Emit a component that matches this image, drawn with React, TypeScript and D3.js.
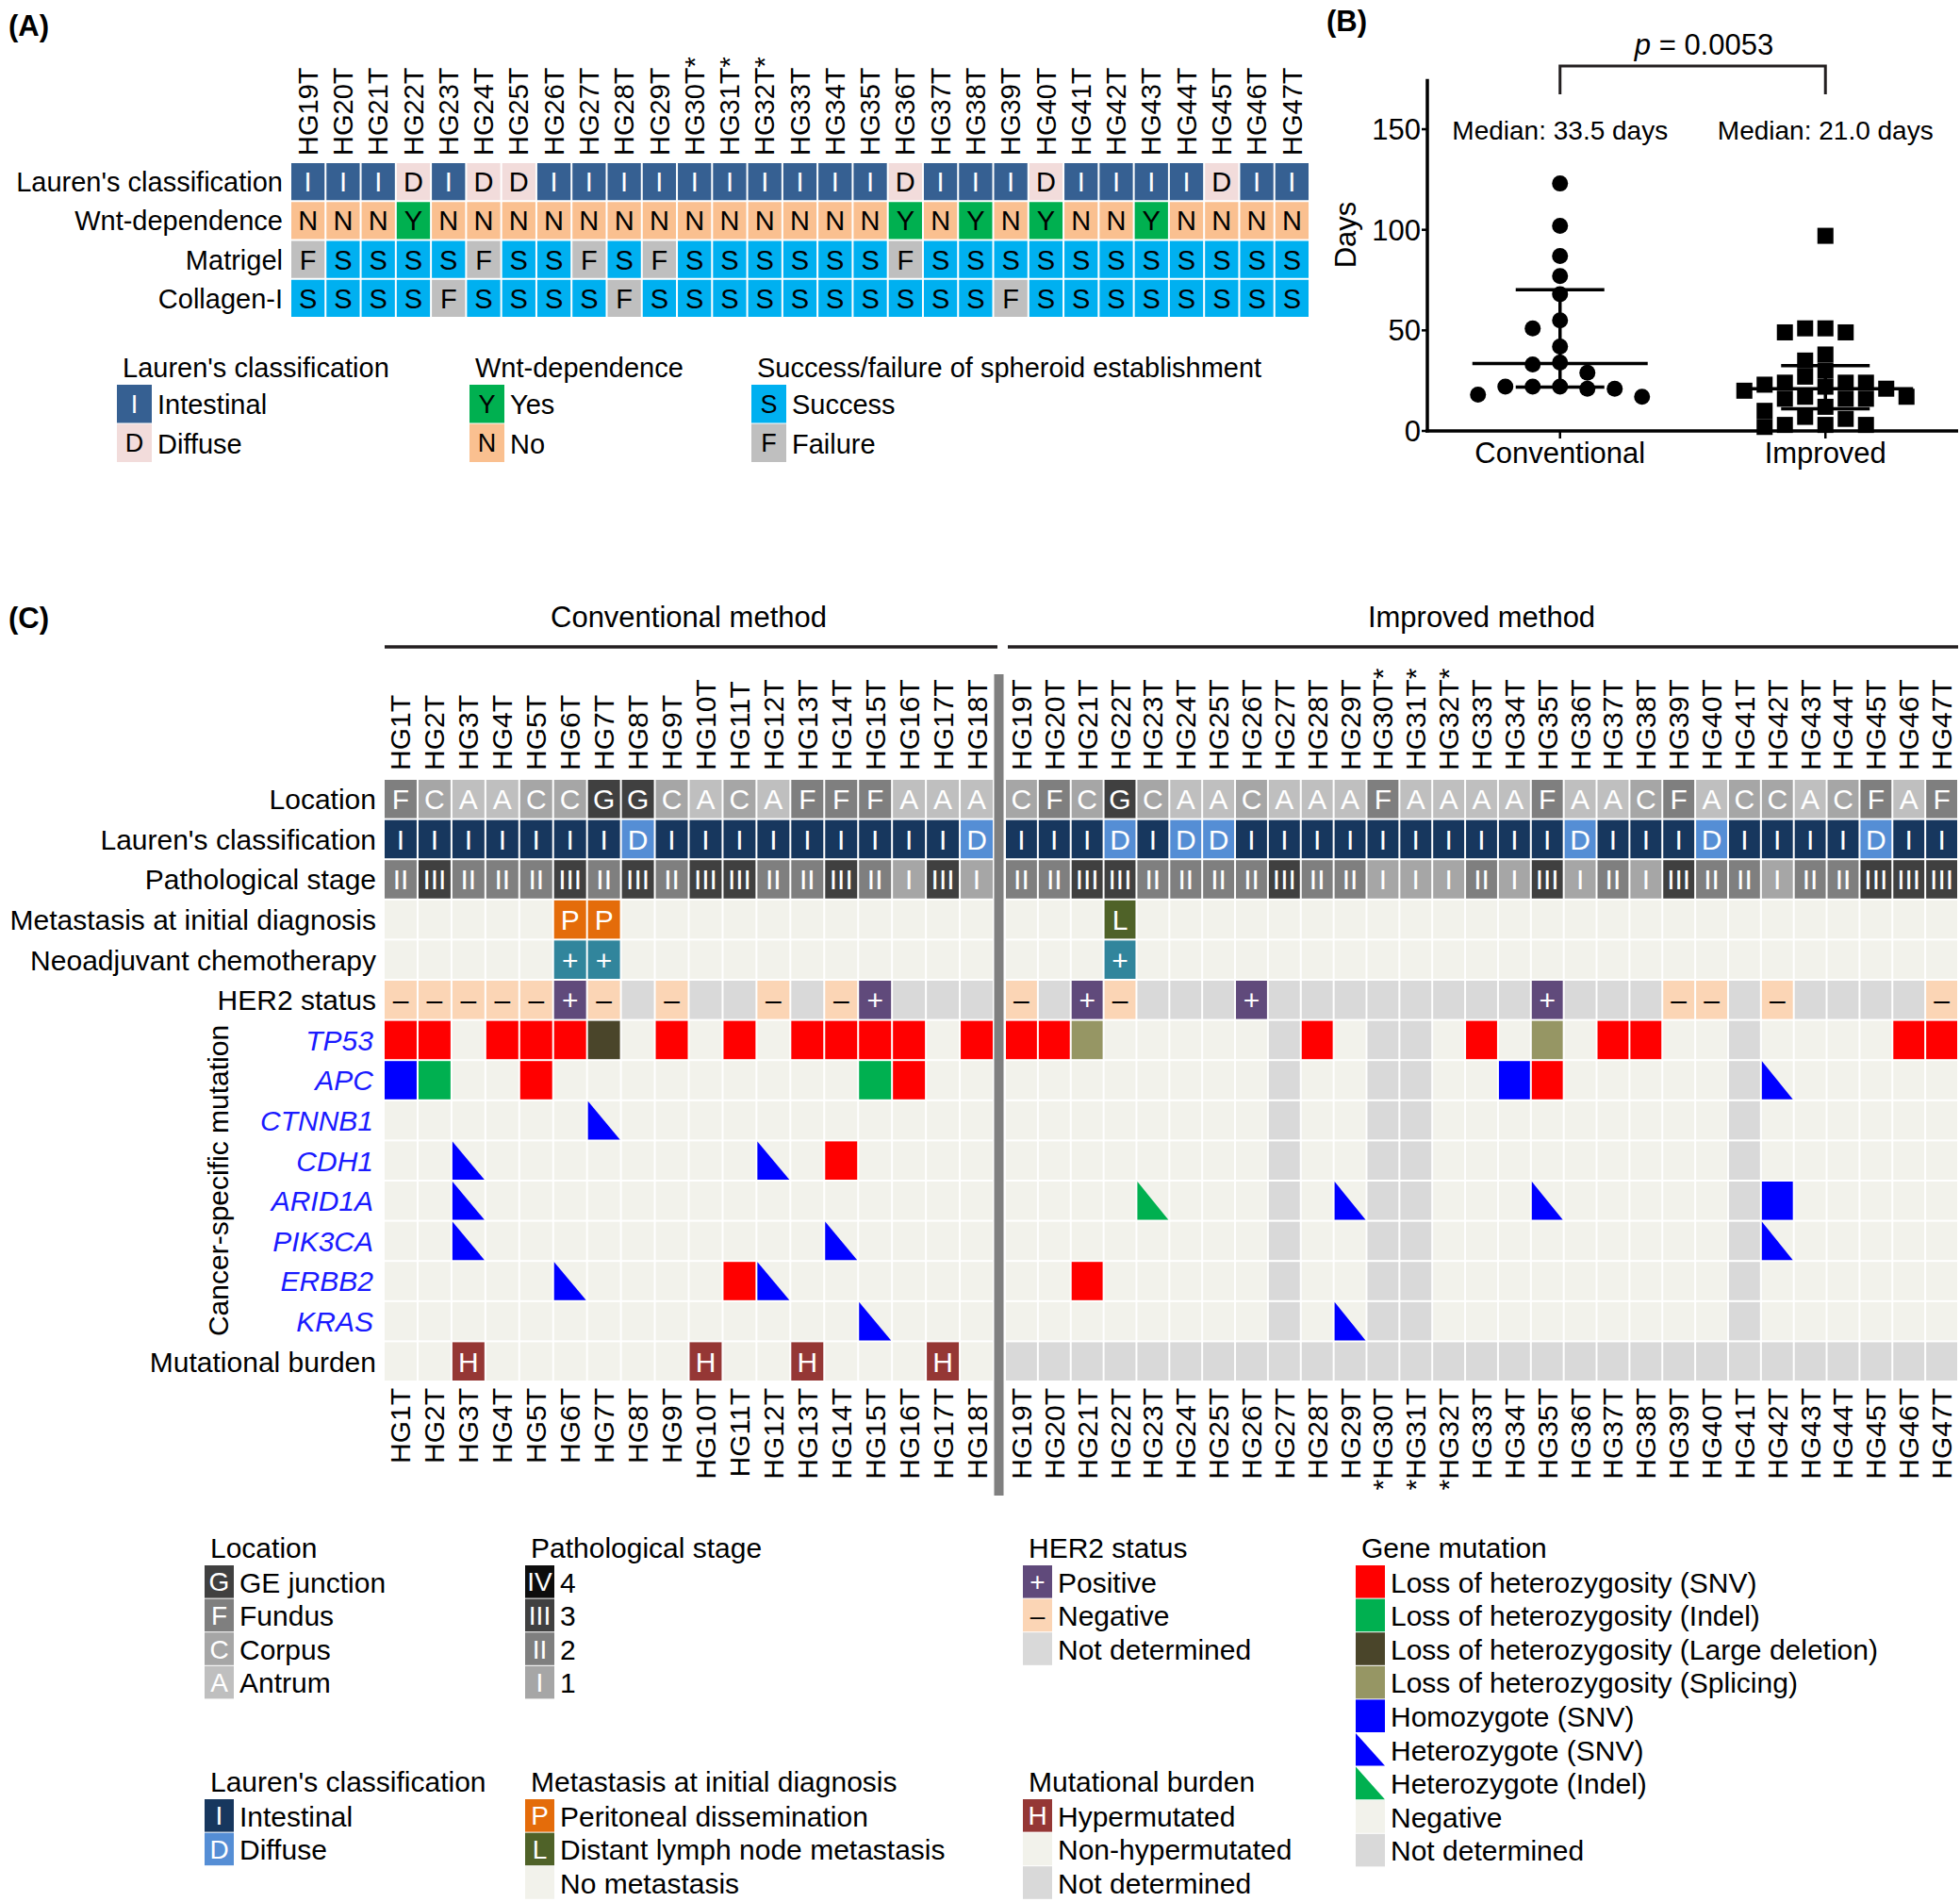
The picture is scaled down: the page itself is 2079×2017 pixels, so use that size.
import React from "react";
import * as d3 from "d3";

const FONT = '"Liberation Sans", Arial, Helvetica, sans-serif';
const W = 2079;
const H = 2017;

// ================= Panel A data =================
const aSamples = [
  "HG19T", "HG20T", "HG21T", "HG22T", "HG23T", "HG24T", "HG25T", "HG26T", "HG27T", "HG28T",
  "HG29T", "HG30T", "HG31T", "HG32T", "HG33T", "HG34T", "HG35T", "HG36T", "HG37T", "HG38T",
  "HG39T", "HG40T", "HG41T", "HG42T", "HG43T", "HG44T", "HG45T", "HG46T", "HG47T",
];
const aLauren = "I I I D I D D I I I I I I I I I I D I I I D I I I I D I I".split(" ");
const aWnt = "N N N Y N N N N N N N N N N N N N Y N Y N Y N N Y N N N N".split(" ");
const aMatrigel = "F S S S S F S S F S F S S S S S S F S S S S S S S S S S S".split(" ");
const aCollagen = "S S S S F S S S S F S S S S S S S S S S F S S S S S S S S".split(" ");
const starred = ["HG30T", "HG31T", "HG32T"];

// ================= Panel B data =================
const groups = ["Conventional", "Improved"];
const conventionalDays = [123, 102, 87, 77, 68, 55, 51, 42, 34, 33, 29, 22, 22, 22, 21, 21, 18, 17];
const improvedDays = [97, 51, 49, 49, 51, 35, 38, 30, 27, 22, 24, 23, 20, 24, 24, 21, 16, 17, 16, 16, 17, 10, 7, 12, 6, 3, 3, 2, 3];
const pValueText = "0.0053";

// ================= Panel C data =================
const convSamples = [
  "HG1T", "HG2T", "HG3T", "HG4T", "HG5T", "HG6T", "HG7T", "HG8T", "HG9T",
  "HG10T", "HG11T", "HG12T", "HG13T", "HG14T", "HG15T", "HG16T", "HG17T", "HG18T",
];
const impSamples = aSamples;
const cLocation = "F C A A C C G G C A C A F F F A A A C F C G C A A C A A A F A A A A F A A C F A C C A C F A F".split(" ");
const cLauren = "I I I I I I I D I I I I I I I I I D I I I D I D D I I I I I I I I I I D I I I D I I I I D I I".split(" ");
const cStage = "II III II II II III II III II III III II II III II I III I II II III III II II II II III II II I I I II I III I II I III II II I II II III III III".split(" ");
const cMetastasis = ". . . . . P P . . . . . . . . . . . . . . L . . . . . . . . . . . . . . . . . . . . . . . . .".split(" ");
const cNeoadjuvant = ". . . . . + + . . . . . . . . . . . . . . + . . . . . . . . . . . . . . . . . . . . . . . . .".split(" ");
const cHER2 = "- - - - - + - ND - ND ND - ND - + ND ND ND - ND + - ND ND ND + ND ND ND ND ND ND ND ND + ND ND ND - - ND - ND ND ND ND -".split(" ");
const cTP53 = "R R . R R R LD . R . R . R R R R . R R R SP . . . . . ND R . ND ND . R . SP . R R . . ND . . . . R R".split(" ");
const cAPC = "B G . . R . . . . . . . . . G R . . . . . . . . . . ND . . ND ND . . B R . . . . . ND T . . . . .".split(" ");
const cCTNNB1 = ". . . . . . T . . . . . . . . . . . . . . . . . . . ND . . ND ND . . . . . . . . . ND . . . . . .".split(" ");
const cCDH1 = ". . T . . . . . . . . T . R . . . . . . . . . . . . ND . . ND ND . . . . . . . . . ND . . . . . .".split(" ");
const cARID1A = ". . T . . . . . . . . . . . . . . . . . . . TG . . . ND . T ND ND . . . T . . . . . ND B . . . . .".split(" ");
const cPIK3CA = ". . T . . . . . . . . . . T . . . . . . . . . . . . ND . . ND ND . . . . . . . . . ND T . . . . .".split(" ");
const cERBB2 = ". . . . . T . . . . R T . . . . . . . . R . . . . . ND . . ND ND . . . . . . . . . ND . . . . . .".split(" ");
const cKRAS = ". . . . . . . . . . . . . . T . . . . . . . . . . . ND . T ND ND . . . . . . . . . ND . . . . . .".split(" ");
const cBurden = ". . H . . . . . . H . . H . . . H . ND ND ND ND ND ND ND ND ND ND ND ND ND ND ND ND ND ND ND ND ND ND ND ND ND ND ND ND ND".split(" ");

// ================= Styles =================
const NEG = "#F2F2EB";
const NDC = "#D9D9D9";
type Sty = { fill: string; text?: string; tc?: string; tri?: string };

const aLaurenPal: Record<string, Sty> = {
  I: { fill: "#366092", text: "I", tc: "#fff" },
  D: { fill: "#F2DCDB", text: "D", tc: "#000" },
};
const aWntPal: Record<string, Sty> = {
  Y: { fill: "#00B050", text: "Y", tc: "#000" },
  N: { fill: "#FAC090", text: "N", tc: "#000" },
};
const aSuccPal: Record<string, Sty> = {
  S: { fill: "#00B0F0", text: "S", tc: "#000" },
  F: { fill: "#BFBFBF", text: "F", tc: "#000" },
};

const locPal: Record<string, Sty> = {
  G: { fill: "#404040", text: "G", tc: "#fff" },
  F: { fill: "#7F7F7F", text: "F", tc: "#fff" },
  C: { fill: "#A6A6A6", text: "C", tc: "#fff" },
  A: { fill: "#BFBFBF", text: "A", tc: "#fff" },
};
const laurenPal: Record<string, Sty> = {
  I: { fill: "#17375E", text: "I", tc: "#fff" },
  D: { fill: "#558ED5", text: "D", tc: "#fff" },
};
const stagePal: Record<string, Sty> = {
  IV: { fill: "#0D0D0D", text: "IV", tc: "#fff" },
  III: { fill: "#404040", text: "III", tc: "#fff" },
  II: { fill: "#7F7F7F", text: "II", tc: "#fff" },
  I: { fill: "#A6A6A6", text: "I", tc: "#fff" },
};
const metPal: Record<string, Sty> = {
  P: { fill: "#E46C0A", text: "P", tc: "#fff" },
  L: { fill: "#4F6228", text: "L", tc: "#fff" },
  ".": { fill: NEG },
};
const neoPal: Record<string, Sty> = {
  "+": { fill: "#31859C", text: "+", tc: "#fff" },
  ".": { fill: NEG },
};
const her2Pal: Record<string, Sty> = {
  "+": { fill: "#604A7B", text: "+", tc: "#fff" },
  "-": { fill: "#FBD5B5", text: "\u2013", tc: "#000" },
  ND: { fill: NDC },
};
const genePal: Record<string, Sty> = {
  R: { fill: "#FF0000" },
  G: { fill: "#00B050" },
  LD: { fill: "#4A452A" },
  SP: { fill: "#969664" },
  B: { fill: "#0000FF" },
  T: { fill: NEG, tri: "#0000FF" },
  TG: { fill: NEG, tri: "#00B050" },
  ".": { fill: NEG },
  ND: { fill: NDC },
};
const burdenPal: Record<string, Sty> = {
  H: { fill: "#953735", text: "H", tc: "#fff" },
  ".": { fill: NEG },
  ND: { fill: NDC },
};

// ================= Helpers =================
function Cell({ x, y, w, h, s, fs }: { x: number; y: number; w: number; h: number; s: Sty; fs: number }) {
  return (
    <g>
      <rect x={x + 1} y={y + 1} width={w - 2} height={h - 2} fill={s.fill} />
      {s.tri && (
        <path d={`M${x + 1},${y + 1}L${x + 1},${y + h - 1}L${x + w - 1},${y + h - 1}Z`} fill={s.tri} />
      )}
      {s.text && (
        <text x={x + w / 2} y={y + h / 2 + fs * 0.36} textAnchor="middle" fontSize={fs} fill={s.tc}>
          {s.text}
        </text>
      )}
    </g>
  );
}

type LegItem = { s: Sty; label: string };
function Legend({ x, y, title, items, pitch, sw, fs }: { x: number; y: number; title: string; items: LegItem[]; pitch: number; sw: number; fs: number }) {
  return (
    <g>
      <text x={x + 6} y={y} fontSize={fs} fill="#000">{title}</text>
      {items.map((it, i) => {
        const top = y + 8 + i * pitch;
        return (
          <g key={i}>
            <Cell x={x - 1} y={top - 1} w={sw + 2} h={pitch + 1} s={it.s} fs={fs - 2} />
            <text x={x + sw + 6} y={top + pitch / 2 + fs * 0.36} fontSize={fs} fill="#000">{it.label}</text>
          </g>
        );
      })}
    </g>
  );
}

function quartile(vals: number[], p: number) {
  const s = [...vals].sort((a, b) => a - b);
  const n = s.length;
  const pos = (n + 1) * p;
  const lo = Math.floor(pos);
  const frac = pos - lo;
  if (lo < 1) return s[0];
  if (lo >= n) return s[n - 1];
  return s[lo - 1] + frac * (s[lo] - s[lo - 1]);
}

// greedy slot-based swarm: each point takes the slot nearest the centre
// that has no vertically-overlapping point already placed in it
function swarm(vals: number[], yScale: (v: number) => number, size: number) {
  const order = vals.map((v, i) => ({ v, i, py: yScale(v) })).sort((a, b) => a.py - b.py);
  const placed: { slot: number; py: number }[] = [];
  const out: { v: number; slot: number }[] = new Array(vals.length);
  const cands = [0];
  for (let k = 1; k < 12; k++) cands.push(-k, k);
  for (const p of order) {
    let slot = 0;
    for (const c of cands) {
      if (!placed.some((q) => q.slot === c && Math.abs(q.py - p.py) < size)) {
        slot = c;
        break;
      }
    }
    placed.push({ slot, py: p.py });
    out[p.i] = { v: p.v, slot };
  }
  return out;
}

// ================= Panel A =================
function PanelA() {
  const x = d3.scaleBand<string>().domain(aSamples).range([308, 1389]);
  const rows = [
    { label: "Lauren's classification", values: aLauren, pal: aLaurenPal },
    { label: "Wnt-dependence", values: aWnt, pal: aWntPal },
    { label: "Matrigel", values: aMatrigel, pal: aSuccPal },
    { label: "Collagen-I", values: aCollagen, pal: aSuccPal },
  ];
  const y = d3.scaleBand<string>().domain(rows.map((r) => r.label)).range([172, 337]);
  const fs = 29;
  return (
    <g>
      <text x={9} y={38} fontSize={31} fontWeight="bold">(A)</text>
      {aSamples.map((s) => (
        <text key={s} transform={`translate(${x(s)! + x.bandwidth() / 2},165) rotate(-90)`} dy="0.35em" fontSize={fs}>
          {s + (starred.includes(s) ? "*" : "")}
        </text>
      ))}
      {rows.map((r) => (
        <g key={r.label}>
          <text x={300} y={y(r.label)! + y.bandwidth() / 2 + fs * 0.36} textAnchor="end" fontSize={fs}>{r.label}</text>
          {r.values.map((v, i) => (
            <Cell key={i} x={x(aSamples[i])!} y={y(r.label)!} w={x.bandwidth()} h={y.bandwidth()} s={r.pal[v]} fs={fs} />
          ))}
        </g>
      ))}
      <Legend x={124} y={400} title="Lauren's classification" pitch={41.5} sw={37} fs={fs}
        items={[{ s: aLaurenPal.I, label: "Intestinal" }, { s: aLaurenPal.D, label: "Diffuse" }]} />
      <Legend x={498} y={400} title="Wnt-dependence" pitch={41.5} sw={37} fs={fs}
        items={[{ s: aWntPal.Y, label: "Yes" }, { s: aWntPal.N, label: "No" }]} />
      <Legend x={797} y={400} title="Success/failure of spheroid establishment" pitch={41.5} sw={37} fs={fs}
        items={[{ s: aSuccPal.S, label: "Success" }, { s: aSuccPal.F, label: "Failure" }]} />
    </g>
  );
}

// ================= Panel B =================
function PanelB() {
  const y = d3.scaleLinear().domain([0, 175]).range([457, 83.7]);
  const x = d3.scalePoint<string>().domain(groups).range([1514, 2077]).padding(0.5);
  const ticks = [0, 50, 100, 150];
  const sets = [
    { g: "Conventional", vals: conventionalDays, step: 29, shape: "circle" },
    { g: "Improved", vals: improvedDays, step: 21.5, shape: "square" },
  ];
  const x1 = x("Conventional")!;
  const x2 = x("Improved")!;
  return (
    <g>
      <text x={1407} y={33} fontSize={31} fontWeight="bold">(B)</text>
      <line x1={1514} x2={1514} y1={y(175)} y2={y(0) + 1.5} stroke="#000" strokeWidth={3.5} />
      <line x1={1512} x2={2077} y1={y(0)} y2={y(0)} stroke="#000" strokeWidth={3.5} />
      {ticks.map((t) => (
        <g key={t}>
          <line x1={1508} x2={1514} y1={y(t)} y2={y(t)} stroke="#000" strokeWidth={2.5} />
          <text x={1507} y={y(t) + 11} textAnchor="end" fontSize={31}>{t}</text>
        </g>
      ))}
      {groups.map((g) => (
        <g key={g}>
          <line x1={x(g)} x2={x(g)} y1={y(0)} y2={y(0) + 8} stroke="#000" strokeWidth={2.5} />
          <text x={x(g)} y={491} textAnchor="middle" fontSize={31}>{g}</text>
        </g>
      ))}
      <text transform={`translate(1427,${y(0) - (y(0) - y(150)) * 0.65}) rotate(-90)`} textAnchor="middle" dy="0.35em" fontSize={31}>Days</text>
      <path d={`M${x1},100V70H${x2}V100`} fill="none" stroke="#231F20" strokeWidth={3} />
      <text x={(x1 + x2) / 2 + 12} y={58} textAnchor="middle" fontSize={31}>
        <tspan fontStyle="italic">p</tspan> = {pValueText}
      </text>
      {sets.map((st) => {
        const cx = x(st.g)!;
        const med = d3.median(st.vals)!;
        const q1 = quartile(st.vals, 0.25);
        const q3 = quartile(st.vals, 0.75);
        const pts = swarm(st.vals, (v) => y(v), 17);
        return (
          <g key={st.g}>
            <text x={cx} y={148} textAnchor="middle" fontSize={28}>{`Median: ${med.toFixed(1)} days`}</text>
            {pts.map((p, i) =>
              st.shape === "circle" ? (
                <circle key={i} cx={cx + p.slot * st.step} cy={y(p.v)} r={8.5} fill="#000" />
              ) : (
                <rect key={i} x={cx + p.slot * st.step - 8.5} y={y(p.v) - 8.5} width={17} height={17} fill="#000" />
              )
            )}
            <line x1={cx - 93} x2={cx + 93} y1={y(med)} y2={y(med)} stroke="#000" strokeWidth={3.5} />
            <line x1={cx - 47} x2={cx + 47} y1={y(q1)} y2={y(q1)} stroke="#000" strokeWidth={3.5} />
            <line x1={cx - 47} x2={cx + 47} y1={y(q3)} y2={y(q3)} stroke="#000" strokeWidth={3.5} />
            <line x1={cx} x2={cx} y1={y(q1)} y2={y(q3)} stroke="#000" strokeWidth={3.5} />
          </g>
        );
      })}
    </g>
  );
}

// ================= Panel C =================
function PanelC() {
  const xl = d3.scaleBand<string>().domain(convSamples).range([407, 1054]);
  const xr = d3.scaleBand<string>().domain(impSamples).range([1066, 2077]);
  const all = [...convSamples, ...impSamples];
  const colX = (i: number) => (i < convSamples.length ? xl(all[i])! : xr(all[i])!);
  const colW = (i: number) => (i < convSamples.length ? xl.bandwidth() : xr.bandwidth());
  const rows = [
    { label: "Location", values: cLocation, pal: locPal, gene: false },
    { label: "Lauren's classification", values: cLauren, pal: laurenPal, gene: false },
    { label: "Pathological stage", values: cStage, pal: stagePal, gene: false },
    { label: "Metastasis at initial diagnosis", values: cMetastasis, pal: metPal, gene: false },
    { label: "Neoadjuvant chemotherapy", values: cNeoadjuvant, pal: neoPal, gene: false },
    { label: "HER2 status", values: cHER2, pal: her2Pal, gene: false },
    { label: "TP53", values: cTP53, pal: genePal, gene: true },
    { label: "APC", values: cAPC, pal: genePal, gene: true },
    { label: "CTNNB1", values: cCTNNB1, pal: genePal, gene: true },
    { label: "CDH1", values: cCDH1, pal: genePal, gene: true },
    { label: "ARID1A", values: cARID1A, pal: genePal, gene: true },
    { label: "PIK3CA", values: cPIK3CA, pal: genePal, gene: true },
    { label: "ERBB2", values: cERBB2, pal: genePal, gene: true },
    { label: "KRAS", values: cKRAS, pal: genePal, gene: true },
    { label: "Mutational burden", values: cBurden, pal: burdenPal, gene: false },
  ];
  const y = d3.scaleBand<string>().domain(rows.map((r) => r.label)).range([826, 1465]);
  const fs = 30;
  const geneRows = rows.filter((r) => r.gene);
  const gTop = y(geneRows[0].label)!;
  const gBot = y(geneRows[geneRows.length - 1].label)! + y.bandwidth();
  const pitch = 35.6;
  const sw = 31;
  return (
    <g>
      <text x={9} y={666} fontSize={31} fontWeight="bold">(C)</text>
      <text x={(407 + 1054) / 2} y={665} textAnchor="middle" fontSize={31}>Conventional method</text>
      <text x={(1066 + 2077) / 2} y={665} textAnchor="middle" fontSize={31}>Improved method</text>
      <line x1={408} x2={1058} y1={686} y2={686} stroke="#231F20" strokeWidth={3.5} />
      <line x1={1069} x2={2077} y1={686} y2={686} stroke="#231F20" strokeWidth={3.5} />
      <rect x={1054.5} y={715} width={10} height={871} fill="#808080" />
      {all.map((s, i) => (
        <g key={s}>
          <text transform={`translate(${colX(i) + colW(i) / 2},817) rotate(-90)`} dy="0.35em" fontSize={fs}>
            {s + (starred.includes(s) ? "*" : "")}
          </text>
          <text transform={`translate(${colX(i) + colW(i) / 2},1472) rotate(-90)`} dy="0.35em" textAnchor="end" fontSize={fs}>
            {(starred.includes(s) ? "*" : "") + s}
          </text>
        </g>
      ))}
      {rows.map((r) => (
        <g key={r.label}>
          <text x={r.gene ? 396 : 399} y={y(r.label)! + y.bandwidth() / 2 + fs * 0.36} textAnchor="end" fontSize={fs}
            fontStyle={r.gene ? "italic" : "normal"} fill={r.gene ? "#1a1aff" : "#000"}>
            {r.label}
          </text>
          {r.values.map((v, i) => (
            <Cell key={i} x={colX(i)} y={y(r.label)!} w={colW(i)} h={y.bandwidth()} s={r.pal[v]} fs={fs} />
          ))}
        </g>
      ))}
      <text transform={`translate(231,${(gTop + gBot) / 2}) rotate(-90)`} textAnchor="middle" dy="0.35em" fontSize={fs}>
        Cancer-specific mutation
      </text>

      <Legend x={217} y={1652} title="Location" pitch={pitch} sw={sw} fs={fs}
        items={[
          { s: locPal.G, label: "GE junction" },
          { s: locPal.F, label: "Fundus" },
          { s: locPal.C, label: "Corpus" },
          { s: locPal.A, label: "Antrum" },
        ]} />
      <Legend x={557} y={1652} title="Pathological stage" pitch={pitch} sw={sw} fs={fs}
        items={[
          { s: stagePal.IV, label: "4" },
          { s: stagePal.III, label: "3" },
          { s: stagePal.II, label: "2" },
          { s: stagePal.I, label: "1" },
        ]} />
      <Legend x={1085} y={1652} title="HER2 status" pitch={pitch} sw={sw} fs={fs}
        items={[
          { s: her2Pal["+"], label: "Positive" },
          { s: her2Pal["-"], label: "Negative" },
          { s: her2Pal.ND, label: "Not determined" },
        ]} />
      <Legend x={1438} y={1652} title="Gene mutation" pitch={pitch} sw={sw} fs={fs}
        items={[
          { s: genePal.R, label: "Loss of heterozygosity (SNV)" },
          { s: genePal.G, label: "Loss of heterozygosity (Indel)" },
          { s: genePal.LD, label: "Loss of heterozygosity (Large deletion)" },
          { s: genePal.SP, label: "Loss of heterozygosity (Splicing)" },
          { s: genePal.B, label: "Homozygote (SNV)" },
          { s: { fill: "#fff", tri: "#0000FF" }, label: "Heterozygote (SNV)" },
          { s: { fill: "#fff", tri: "#00B050" }, label: "Heterozygote (Indel)" },
          { s: genePal["."], label: "Negative" },
          { s: genePal.ND, label: "Not determined" },
        ]} />
      <Legend x={217} y={1900} title="Lauren's classification" pitch={pitch} sw={sw} fs={fs}
        items={[
          { s: laurenPal.I, label: "Intestinal" },
          { s: laurenPal.D, label: "Diffuse" },
        ]} />
      <Legend x={557} y={1900} title="Metastasis at initial diagnosis" pitch={pitch} sw={sw} fs={fs}
        items={[
          { s: metPal.P, label: "Peritoneal dissemination" },
          { s: metPal.L, label: "Distant lymph node metastasis" },
          { s: metPal["."], label: "No metastasis" },
        ]} />
      <Legend x={1085} y={1900} title="Mutational burden" pitch={pitch} sw={sw} fs={fs}
        items={[
          { s: burdenPal.H, label: "Hypermutated" },
          { s: burdenPal["."], label: "Non-hypermutated" },
          { s: burdenPal.ND, label: "Not determined" },
        ]} />
    </g>
  );
}

export default function App() {
  return (
    <svg width={W} height={H} viewBox={`0 0 ${W} ${H}`} fontFamily={FONT}
      style={{ position: "absolute", left: 0, top: 0, background: "#fff", display: "block" }}>
      <rect width={W} height={H} fill="#fff" />
      <PanelA />
      <PanelB />
      <PanelC />
    </svg>
  );
}
